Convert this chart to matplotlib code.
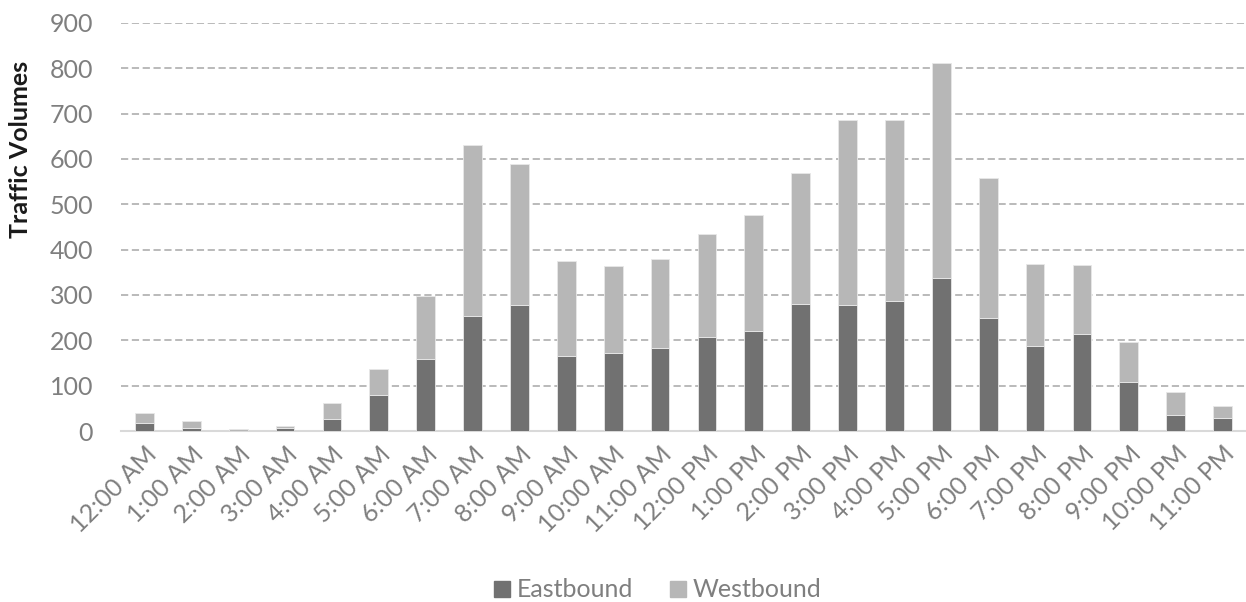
import matplotlib.pyplot as plt
from matplotlib.lines import Line2D

# hourly traffic counts by direction
hours = ['12:00 AM', '1:00 AM', '2:00 AM', '3:00 AM', '4:00 AM', '5:00 AM',
         '6:00 AM', '7:00 AM', '8:00 AM', '9:00 AM', '10:00 AM', '11:00 AM',
         '12:00 PM', '1:00 PM', '2:00 PM', '3:00 PM', '4:00 PM', '5:00 PM',
         '6:00 PM', '7:00 PM', '8:00 PM', '9:00 PM', '10:00 PM', '11:00 PM']
eastbound = [18, 6, 1, 7, 27, 80, 158, 253, 277, 165, 171, 182,
             207, 220, 281, 279, 286, 337, 250, 188, 215, 109, 35, 29]
westbound = [22, 16, 4, 4, 35, 57, 139, 377, 311, 209, 192, 198,
             228, 256, 287, 406, 399, 475, 309, 180, 151, 87, 51, 26]
yticks = [0, 100, 200, 300, 400, 500, 600, 700, 800, 900]

EAST_COLOR = '#717171'
WEST_COLOR = '#b7b7b7'
TEXT_COLOR = '#7f7f7f'

plt.rcParams['font.family'] = ['Lato', 'DejaVu Sans']

fig = plt.figure(figsize=(12.46, 6.02), dpi=100)
ax = fig.add_axes([0.0971, 0.284, 0.9029, 0.678])

x = range(len(hours))
ax.bar(x, eastbound, width=0.4, color=EAST_COLOR, edgecolor='#e8e8e8',
       linewidth=0.6, zorder=3)
ax.bar(x, westbound, width=0.4, bottom=eastbound, color=WEST_COLOR,
       edgecolor='#e8e8e8', linewidth=0.6, zorder=3)

ax.set_xlim(-0.5, len(hours) - 0.5)
ax.set_ylim(0, 900)
ax.set_yticks(yticks)
ax.set_yticklabels([str(v) for v in yticks])
ax.set_xticks(list(x))
ax.set_xticklabels(hours, rotation=45, ha='right', rotation_mode='anchor')

ax.yaxis.grid(True, linestyle=(0, (4, 2)), color='#b4b4b4', linewidth=1.3, zorder=0)
ax.set_axisbelow(True)
for side in ['top', 'right', 'left']:
    ax.spines[side].set_visible(False)
ax.spines['bottom'].set_color('#d9d9d9')
ax.spines['bottom'].set_linewidth(1.5)

ax.tick_params(axis='y', length=0, pad=20, labelsize=18, labelcolor=TEXT_COLOR)
ax.tick_params(axis='x', length=0, pad=8, labelsize=18, labelcolor=TEXT_COLOR)

ax.set_ylabel('Traffic Volumes', fontsize=18, fontweight='bold', color='#1a1a1a')
ax.yaxis.set_label_coords(-0.079, 0.69)

handles = [
    Line2D([], [], marker='s', linestyle='none', markersize=12,
           markerfacecolor=EAST_COLOR, markeredgecolor=EAST_COLOR),
    Line2D([], [], marker='s', linestyle='none', markersize=12,
           markerfacecolor=WEST_COLOR, markeredgecolor=WEST_COLOR),
]
fig.legend(handles, ['Eastbound', 'Westbound'], loc='center',
           bbox_to_anchor=(0.526, 0.02), ncol=2, frameon=False,
           fontsize=18, labelcolor=TEXT_COLOR, handletextpad=0.1,
           columnspacing=1.3, handlelength=1.0)

fig.savefig('out.png', dpi=100)
